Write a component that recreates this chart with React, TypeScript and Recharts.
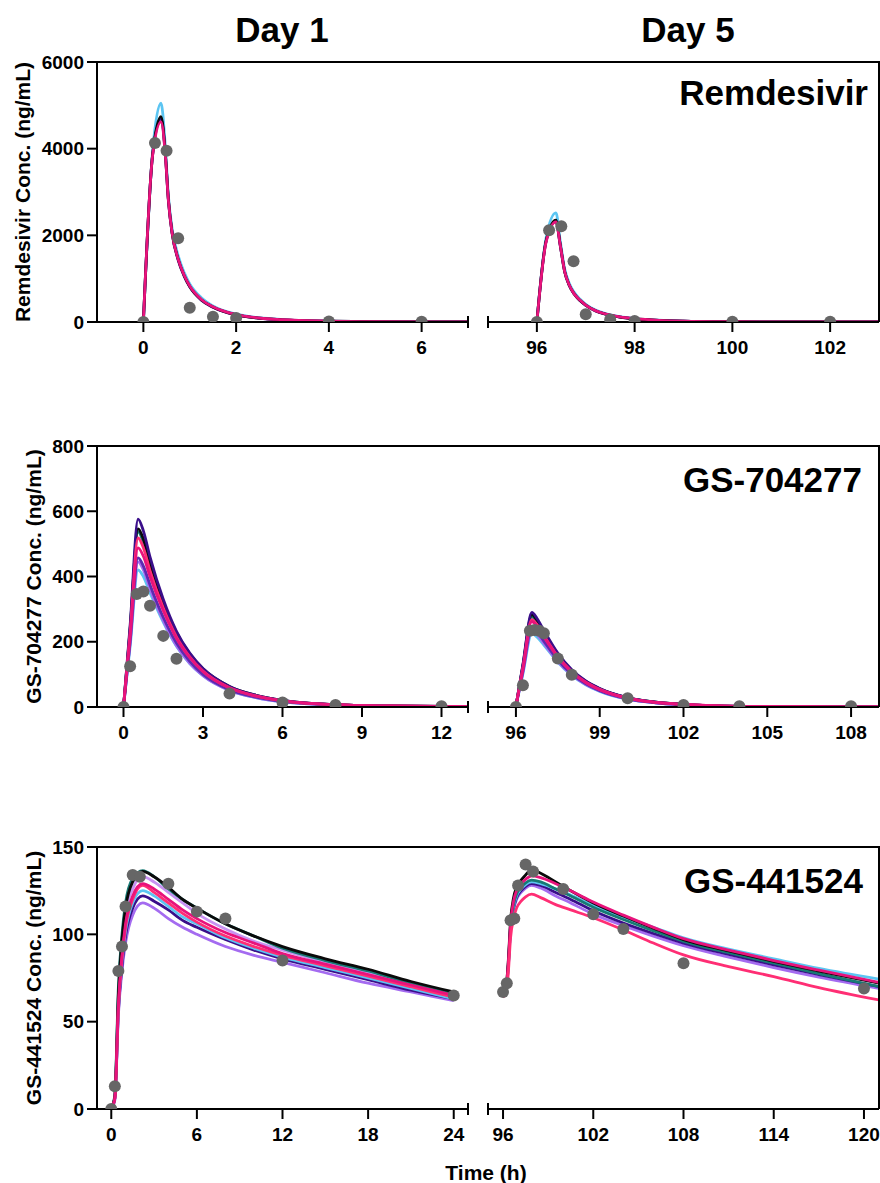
import React from 'react';
import { ComposedChart, Line, Scatter, XAxis, YAxis } from 'recharts';

const FONT = 'Arial, "Liberation Sans", Helvetica, sans-serif';

// line colours
const LIGHT_BLUE = '#5CC5F2';
const BLACK = '#0A0A0A';
const INDIGO = '#3A0E8A';
const TEAL = '#177A74';
const MAGENTA = '#E8137C';
const HOT_PINK = '#FF2E74';
const PURPLE = '#5B2BB0';
const LAVENDER = '#A46BF0';
const ORCHID = '#C792F2';

// ---------- Remdesivir, day 1
const remD1Time = [0, 0.2, 0.38, 0.47, 0.54, 0.62, 0.75, 0.88, 1.0, 1.25, 1.5, 2, 2.5, 3, 4, 5, 7];
const remD1LightBlue = [0, 3950, 5050, 4100, 2900, 2150, 1530, 1140, 880, 560, 370, 180, 98, 56, 22, 10, 3];
const remD1Black = [0, 3880, 4740, 3950, 2820, 2060, 1450, 1070, 820, 515, 345, 165, 88, 50, 19, 8, 3];
const remD1Indigo = [0, 3860, 4680, 3920, 2790, 2040, 1430, 1060, 810, 505, 340, 162, 86, 49, 19, 8, 3];
const remD1Magenta = [0, 3850, 4620, 3900, 2800, 2050, 1450, 1080, 830, 520, 350, 170, 92, 52, 20, 9, 3];
const remD1ObsTime = [0, 0.25, 0.5, 0.75, 1, 1.5, 2, 4, 6];
const remD1ObsConc = [0, 4130, 3950, 1930, 330, 120, 90, 10, 5];

// ---------- Remdesivir, day 5
const remD5Time = [96, 96.19, 96.39, 96.48, 96.57, 96.66, 96.76, 96.88, 97.0, 97.2, 97.4, 97.7, 98, 98.5, 99, 100, 101, 103];
const remD5LightBlue = [0, 1950, 2520, 1850, 1220, 900, 690, 530, 410, 275, 195, 122, 80, 40, 21, 7, 3, 1];
const remD5Black = [0, 1880, 2350, 1770, 1160, 855, 655, 500, 390, 260, 184, 115, 75, 37, 19, 7, 3, 1];
const remD5Indigo = [0, 1870, 2320, 1750, 1150, 850, 650, 495, 385, 257, 182, 113, 74, 36, 19, 7, 3, 1];
const remD5Magenta = [0, 1850, 2310, 1760, 1160, 860, 655, 505, 392, 262, 186, 117, 76, 38, 20, 7, 3, 1];
const remD5ObsTime = [96, 96.25, 96.5, 96.75, 97, 97.5, 98, 100, 102];
const remD5ObsConc = [0, 2120, 2210, 1400, 180, 55, 25, 5, 5];

// ---------- GS-704277, day 1
const gs7D1Time = [0, 0.25, 0.55, 0.75, 1.0, 1.5, 2.0, 2.5, 3.0, 4.0, 5.0, 6.0, 8.0, 10, 13];
const gs7D1Indigo = [0, 250, 576, 540, 460, 330, 232, 165, 118, 63, 36, 20, 7, 3, 1];
const gs7D1Black = [0, 240, 546, 515, 442, 322, 228, 163, 117, 63, 36, 20, 7, 3, 1];
const gs7D1Teal = [0, 236, 537, 505, 432, 312, 220, 157, 112, 60, 34, 19, 7, 3, 1];
const gs7D1HotPink = [0, 228, 518, 488, 418, 304, 215, 154, 110, 59, 34, 19, 7, 3, 1];
const gs7D1Magenta = [0, 215, 488, 462, 400, 295, 210, 151, 108, 58, 33, 19, 7, 3, 1];
const gs7D1Purple = [0, 200, 457, 432, 375, 275, 196, 140, 100, 53, 30, 17, 6, 2, 1];
const gs7D1Lavender = [0, 196, 445, 420, 362, 265, 188, 134, 96, 51, 29, 16, 6, 2, 1];
const gs7D1LightBlue = [0, 186, 420, 400, 350, 260, 186, 133, 96, 51, 29, 16, 6, 2, 1];
const gs7D1ObsTime = [0, 0.25, 0.5, 0.75, 1, 1.5, 2, 4, 6, 8, 12];
const gs7D1ObsConc = [0, 125, 346, 354, 310, 218, 148, 41, 14, 6, 2];

// ---------- GS-704277, day 5
const gs7D5Time = [96, 96.25, 96.57, 96.75, 97.0, 97.5, 98.0, 98.5, 99, 100, 101, 102, 104, 106, 109];
const gs7D5Indigo = [2, 130, 290, 272, 235, 165, 114, 80, 57, 29, 15, 8, 2, 1, 0];
const gs7D5Black = [2, 127, 283, 266, 230, 162, 112, 79, 56, 28, 15, 8, 2, 1, 0];
const gs7D5Teal = [2, 124, 276, 260, 225, 158, 110, 77, 55, 28, 15, 8, 2, 1, 0];
const gs7D5HotPink = [2, 120, 268, 253, 219, 155, 108, 76, 54, 27, 14, 8, 2, 1, 0];
const gs7D5Magenta = [2, 116, 262, 248, 215, 153, 107, 75, 53, 27, 14, 8, 2, 1, 0];
const gs7D5Purple = [2, 110, 245, 232, 202, 144, 101, 71, 50, 25, 13, 7, 2, 1, 0];
const gs7D5Lavender = [2, 106, 235, 223, 195, 139, 98, 69, 49, 24, 13, 7, 2, 1, 0];
const gs7D5LightBlue = [2, 102, 225, 215, 190, 137, 97, 68, 48, 24, 13, 7, 2, 1, 0];
const gs7D5ObsTime = [96, 96.25, 96.5, 96.67, 96.83, 97, 97.5, 98, 100, 102, 104, 108];
const gs7D5ObsConc = [0, 67, 234, 236, 234, 226, 149, 99, 27, 6, 2, 2];

// ---------- GS-441524, day 1
const gs4D1Time = [0, 0.25, 0.5, 0.75, 1.0, 1.5, 2.2, 3, 4, 5, 6, 8, 10, 12, 15, 18, 21, 24];
const gs4D1Teal = [0, 8, 70, 100, 118, 132, 136.5, 133, 126, 120, 115, 106, 99, 92, 85, 79, 72, 66];
const gs4D1Black = [0, 7, 66, 97, 115, 130, 136, 133, 127, 120, 115, 106, 99, 93, 86, 80, 73, 67];
const gs4D1Orchid = [0, 7, 64, 94, 112, 126, 133, 130, 124, 118, 112, 103, 96, 91, 84, 78, 71, 65];
const gs4D1Magenta = [0, 6, 60, 88, 106, 122, 129, 126, 120, 114, 109, 101, 95, 89, 83, 77, 71, 65];
const gs4D1HotPink = [0, 6, 58, 86, 104, 120, 128, 124, 118, 112, 107, 99, 93, 88, 82, 76, 70, 64];
const gs4D1LightBlue = [0, 6, 58, 85, 102, 118, 125, 122, 116, 110, 106, 98, 92, 87, 81, 75, 69, 63];
const gs4D1Indigo = [0, 6, 56, 82, 99, 115, 122, 119, 114, 108, 104, 97, 91, 86, 80, 74, 68, 63];
const gs4D1Lavender = [0, 5, 54, 79, 95, 111, 118, 115, 109, 104, 100, 93, 88, 84, 78, 72, 67, 62];
const gs4D1ObsTime = [0, 0.25, 0.5, 0.75, 1, 1.5, 2, 4, 6, 8, 12, 24];
const gs4D1ObsConc = [0, 13, 79, 93, 116, 134, 133, 129, 113, 109, 85, 65];

// ---------- GS-441524, day 5
const gs4D5Time = [96, 96.2, 96.35, 96.5, 96.7, 96.9, 97.2, 97.5, 97.9, 98.5, 99.5, 100.5, 102, 104, 106, 108, 111, 114, 117, 121];
const gs4D5Black = [67, 70, 85, 108, 121, 127, 131, 134, 137, 135, 130, 125, 118, 110.5, 103.5, 97, 90.5, 84.5, 79, 72];
const gs4D5Magenta = [67, 70, 84, 106, 119, 125, 129, 131.5, 133.5, 132.5, 129, 125, 118.5, 111, 104, 97.5, 91, 85, 79.5, 72.5];
const gs4D5Teal = [66, 69, 83, 105, 117, 123, 127, 129.5, 131, 130, 126, 122, 115.5, 108.5, 102, 96, 89.5, 83.5, 77.5, 70];
const gs4D5LightBlue = [66, 69, 82, 104, 116, 122, 126, 128.5, 130, 129, 126, 122.5, 116.5, 110, 104, 98, 91.5, 86, 80.5, 74.4];
const gs4D5Indigo = [65, 68, 82, 103, 115, 121, 125, 127.5, 129, 128, 124, 120, 113.5, 106.5, 100.5, 95, 88.5, 82.5, 77, 70];
const gs4D5Lavender = [65, 68, 81, 102, 114, 120, 124, 126.5, 128, 126.5, 122, 118, 111.5, 105, 99, 93.5, 87, 81, 75.5, 69];
const gs4D5HotPink = [64, 67, 78, 98, 109, 115, 119, 121.5, 123, 121, 117, 114, 109.5, 102.5, 95, 88.2, 81.5, 75.8, 69.5, 62.4];
const gs4D5ObsTime = [96, 96.25, 96.5, 96.75, 97, 97.5, 98, 100, 102, 104, 108, 120];
const gs4D5ObsConc = [67, 72, 108, 109, 128, 140, 136, 126, 111.5, 103, 83.5, 69];

// axis ticks
const remYTicks = [0, 2000, 4000, 6000];
const gs7YTicks = [0, 200, 400, 600, 800];
const gs4YTicks = [0, 50, 100, 150];
const remD1Ticks = [0, 2, 4, 6];
const remD5Ticks = [96, 98, 100, 102];
const gs7D1Ticks = [0, 3, 6, 9, 12];
const gs7D5Ticks = [96, 99, 102, 105, 108];
const gs4D1Ticks = [0, 6, 12, 18, 24];
const gs4D5Ticks = [96, 102, 108, 114, 120];

type SeriesDef = { key: string; color: string; values: number[] };

const toRows = (t: number[], series: SeriesDef[]) =>
  t.map((x, i) => {
    const row: Record<string, number> = { t: x };
    series.forEach((s) => {
      row[s.key] = s.values[i];
    });
    return row;
  });

const toObs = (t: number[], c: number[]) => t.map((x, i) => ({ t: x, c: c[i] }));

// x ticks: short tick + label, or the end cap of a broken axis
const xTick = (cap: number) => (props: any) => {
  const { x, y, payload } = props;
  if (payload.value === cap) {
    return <line x1={x} x2={x} y1={y - 6} y2={y + 6} stroke="#000" strokeWidth={2} />;
  }
  return (
    <g>
      <line x1={x} x2={x} y1={y} y2={y + 10} stroke="#000" strokeWidth={2} />
      <text x={x} y={y + 32} textAnchor="middle" fontSize={19} fontWeight={700} fontFamily={FONT} fill="#000">
        {payload.value}
      </text>
    </g>
  );
};

const yTitle = (text: string, cx: number) => (props: any) => {
  const vb = props.viewBox;
  const cy = vb.y + vb.height / 2;
  return (
    <text
      x={cx}
      y={cy}
      transform={`rotate(-90 ${cx} ${cy})`}
      textAnchor="middle"
      dominantBaseline="central"
      fontSize={21}
      fontWeight={700}
      fontFamily={FONT}
      fill="#000"
    >
      {text}
    </text>
  );
};

const obsDot = (props: any) => <circle cx={props.cx} cy={props.cy} r={6} fill="#666666" />;

type PanelProps = {
  left: boolean;
  top: number;
  plotH: number;
  xDomain: [number, number];
  xTicks: number[];
  cap: number;
  yDomain: [number, number];
  yTicks: number[];
  yLabel?: string;
  yLabelX?: number;
  time: number[];
  series: SeriesDef[];
  obsTime: number[];
  obsConc: number[];
};

const Panel = (p: PanelProps) => {
  const width = p.left ? 480 : 400;
  const margin = p.left
    ? { top: 10, right: 12, bottom: 0, left: 0 }
    : { top: 10, right: 0, bottom: 0, left: 8 };
  const ticks = p.left ? [...p.xTicks, p.cap] : [p.cap, ...p.xTicks];
  return (
    <div style={{ position: 'absolute', left: p.left ? 0 : 480, top: p.top - 10 }}>
      <ComposedChart width={width} height={p.plotH + 60} data={toRows(p.time, p.series)} margin={margin}>
        <XAxis
          dataKey="t"
          type="number"
          domain={p.xDomain}
          ticks={ticks}
          interval={0}
          height={50}
          tickSize={0}
          tickMargin={0}
          tickLine={false}
          axisLine={{ stroke: '#000', strokeWidth: 2 }}
          tick={xTick(p.cap)}
          allowDataOverflow
        />
        {p.left ? (
          <YAxis
            type="number"
            domain={p.yDomain}
            ticks={p.yTicks}
            interval={0}
            width={97}
            tickSize={10}
            tickMargin={3}
            axisLine={{ stroke: '#000', strokeWidth: 2 }}
            tickLine={{ stroke: '#000', strokeWidth: 2 }}
            tick={{ fontSize: 19, fontWeight: 700, fill: '#000', fontFamily: FONT }}
            label={{ content: yTitle(p.yLabel || '', p.yLabelX || 22) }}
            allowDataOverflow
          />
        ) : (
          <YAxis
            orientation="right"
            type="number"
            domain={p.yDomain}
            width={1}
            tick={false}
            tickLine={false}
            axisLine={{ stroke: '#000', strokeWidth: 2 }}
            allowDataOverflow
          />
        )}
        {p.series.map((s) => (
          <Line
            key={s.key}
            dataKey={s.key}
            type="monotone"
            stroke={s.color}
            strokeWidth={2.8}
            dot={false}
            activeDot={false}
            isAnimationActive={false}
          />
        ))}
        <Scatter data={toObs(p.obsTime, p.obsConc)} dataKey="c" shape={obsDot} isAnimationActive={false} />
      </ComposedChart>
    </div>
  );
};

const ROW_TOPS = [62, 446, 847];

export default function App() {
  return (
    <div style={{ position: 'absolute', left: 0, top: 0, width: 880, height: 1183, background: '#fff' }}>
      <Panel
        left
        top={62}
        plotH={260}
        xDomain={[-1, 7]}
        xTicks={remD1Ticks}
        cap={7}
        yDomain={[0, 6000]}
        yTicks={remYTicks}
        yLabel="Remdesivir Conc. (ng/mL)"
        yLabelX={22.5}
        time={remD1Time}
        series={[
          { key: 'lb', color: LIGHT_BLUE, values: remD1LightBlue },
          { key: 'in', color: INDIGO, values: remD1Indigo },
          { key: 'bk', color: BLACK, values: remD1Black },
          { key: 'mg', color: MAGENTA, values: remD1Magenta },
        ]}
        obsTime={remD1ObsTime}
        obsConc={remD1ObsConc}
      />
      <Panel
        left={false}
        top={62}
        plotH={260}
        xDomain={[95, 103]}
        xTicks={remD5Ticks}
        cap={95}
        yDomain={[0, 6000]}
        yTicks={remYTicks}
        time={remD5Time}
        series={[
          { key: 'lb', color: LIGHT_BLUE, values: remD5LightBlue },
          { key: 'in', color: INDIGO, values: remD5Indigo },
          { key: 'bk', color: BLACK, values: remD5Black },
          { key: 'mg', color: MAGENTA, values: remD5Magenta },
        ]}
        obsTime={remD5ObsTime}
        obsConc={remD5ObsConc}
      />
      <Panel
        left
        top={446}
        plotH={261}
        xDomain={[-1, 13]}
        xTicks={gs7D1Ticks}
        cap={13}
        yDomain={[0, 800]}
        yTicks={gs7YTicks}
        yLabel="GS-704277 Conc. (ng/mL)"
        yLabelX={33}
        time={gs7D1Time}
        series={[
          { key: 'lb', color: LIGHT_BLUE, values: gs7D1LightBlue },
          { key: 'lv', color: LAVENDER, values: gs7D1Lavender },
          { key: 'pu', color: PURPLE, values: gs7D1Purple },
          { key: 'tl', color: TEAL, values: gs7D1Teal },
          { key: 'bk', color: BLACK, values: gs7D1Black },
          { key: 'in', color: INDIGO, values: gs7D1Indigo },
          { key: 'hp', color: HOT_PINK, values: gs7D1HotPink },
          { key: 'mg', color: MAGENTA, values: gs7D1Magenta },
        ]}
        obsTime={gs7D1ObsTime}
        obsConc={gs7D1ObsConc}
      />
      <Panel
        left={false}
        top={446}
        plotH={261}
        xDomain={[95, 109]}
        xTicks={gs7D5Ticks}
        cap={95}
        yDomain={[0, 800]}
        yTicks={gs7YTicks}
        time={gs7D5Time}
        series={[
          { key: 'lb', color: LIGHT_BLUE, values: gs7D5LightBlue },
          { key: 'lv', color: LAVENDER, values: gs7D5Lavender },
          { key: 'pu', color: PURPLE, values: gs7D5Purple },
          { key: 'tl', color: TEAL, values: gs7D5Teal },
          { key: 'bk', color: BLACK, values: gs7D5Black },
          { key: 'in', color: INDIGO, values: gs7D5Indigo },
          { key: 'hp', color: HOT_PINK, values: gs7D5HotPink },
          { key: 'mg', color: MAGENTA, values: gs7D5Magenta },
        ]}
        obsTime={gs7D5ObsTime}
        obsConc={gs7D5ObsConc}
      />
      <Panel
        left
        top={847}
        plotH={262}
        xDomain={[-1, 25]}
        xTicks={gs4D1Ticks}
        cap={25}
        yDomain={[0, 150]}
        yTicks={gs4YTicks}
        yLabel="GS-441524 Conc. (ng/mL)"
        yLabelX={33}
        time={gs4D1Time}
        series={[
          { key: 'lv', color: LAVENDER, values: gs4D1Lavender },
          { key: 'in', color: INDIGO, values: gs4D1Indigo },
          { key: 'lb', color: LIGHT_BLUE, values: gs4D1LightBlue },
          { key: 'or', color: ORCHID, values: gs4D1Orchid },
          { key: 'tl', color: TEAL, values: gs4D1Teal },
          { key: 'bk', color: BLACK, values: gs4D1Black },
          { key: 'hp', color: HOT_PINK, values: gs4D1HotPink },
          { key: 'mg', color: MAGENTA, values: gs4D1Magenta },
        ]}
        obsTime={gs4D1ObsTime}
        obsConc={gs4D1ObsConc}
      />
      <Panel
        left={false}
        top={847}
        plotH={262}
        xDomain={[95, 121]}
        xTicks={gs4D5Ticks}
        cap={95}
        yDomain={[0, 150]}
        yTicks={gs4YTicks}
        time={gs4D5Time}
        series={[
          { key: 'lv', color: LAVENDER, values: gs4D5Lavender },
          { key: 'in', color: INDIGO, values: gs4D5Indigo },
          { key: 'lb', color: LIGHT_BLUE, values: gs4D5LightBlue },
          { key: 'tl', color: TEAL, values: gs4D5Teal },
          { key: 'bk', color: BLACK, values: gs4D5Black },
          { key: 'mg', color: MAGENTA, values: gs4D5Magenta },
          { key: 'hp', color: HOT_PINK, values: gs4D5HotPink },
        ]}
        obsTime={gs4D5ObsTime}
        obsConc={gs4D5ObsConc}
      />

      {/* frame tops, titles and panel names */}
      <svg
        width={880}
        height={1183}
        style={{ position: 'absolute', left: 0, top: 0, pointerEvents: 'none' }}
        fontFamily={FONT}
        fontWeight={700}
      >
        {ROW_TOPS.map((y) => (
          <line key={y} x1={96} x2={880} y1={y} y2={y} stroke="#000" strokeWidth={2} />
        ))}
        <text x={282} y={42} fontSize={35} textAnchor="middle">Day 1</text>
        <text x={688} y={42} fontSize={35} textAnchor="middle">Day 5</text>
        <text x={868} y={105} fontSize={35} textAnchor="end">Remdesivir</text>
        <text x={862} y={492} fontSize={35} textAnchor="end">GS-704277</text>
        <text x={863} y={893} fontSize={35} textAnchor="end">GS-441524</text>
        <text x={486} y={1180} fontSize={21} textAnchor="middle">Time (h)</text>
      </svg>
    </div>
  );
}
